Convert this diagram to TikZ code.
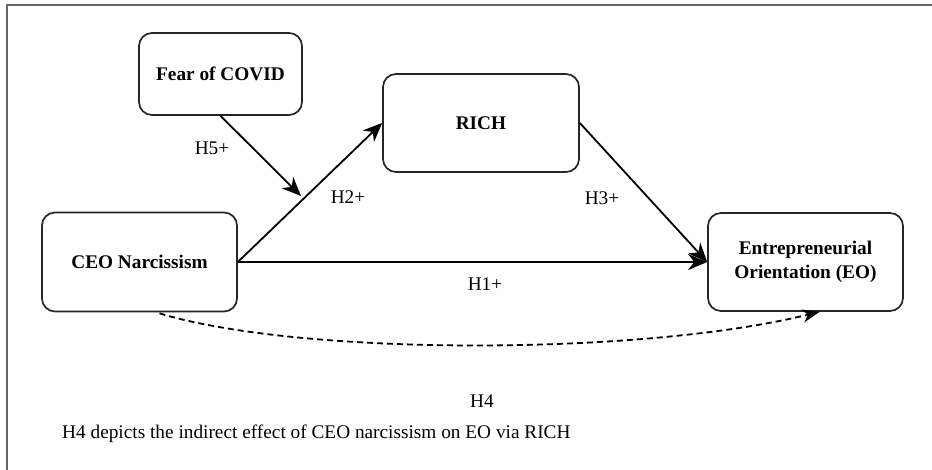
\documentclass[tikz,border=0pt]{standalone}
\usepackage{fontspec}
\setmainfont{Liberation Serif}
\usetikzlibrary{arrows.meta,calc}
\tikzset{
  box/.style={draw=black!85, line width=1.7pt, rounded corners=13pt, align=center,
    font=\fontsize{19.3}{24}\selectfont\bfseries, inner sep=0pt},
  lbl/.style={font=\fontsize{19.3}{24}\selectfont, inner sep=0pt},
  conn/.style={line width=1.8pt, -{Stealth[length=19pt,width=16pt,inset=6pt]}},
  dconn/.style={line width=1.8pt, dash pattern=on 6pt off 4pt, -{Stealth[length=17pt,width=13pt,inset=5pt]}},
  frame/.style={draw=black!60, line width=2pt}
}
\begin{document}
\begin{tikzpicture}[x=1pt,y=-1pt]
\useasboundingbox (0,0) rectangle (932,470);
\draw[frame] (7,470) -- (7,5) -- (932,5);
\node[box, minimum width=163pt, minimum height=82pt] (fear) at (220.5,74) {Fear of COVID};
\node[box, minimum width=196pt, minimum height=98pt] (rich) at (481,123) {RICH};
\node[box, minimum width=195pt, minimum height=99pt] (ceo) at (139.5,262) {CEO Narcissism};
\node[box, minimum width=195pt, minimum height=98pt] (eo) at (805.5,262) {Entrepreneurial\\Orientation (EO)};
\coordinate (h5end) at (301,196);
\draw[conn] (ceo.east) -- (rich.west);
\draw[conn] (fear.south) -- (h5end);
\draw[conn] (rich.east) -- (eo.west);
\draw[conn] (ceo.east) -- (eo.west);
\coordinate (ds) at ($(ceo.south)+(20,1)$);
\coordinate (de) at ($(eo.south)+(14,0)$);
\draw[dconn] (ds) .. controls (300,356) and (640,356) .. (de);
\node[lbl] (h5) at (212,148) {H5+};
\node[lbl] (h2) at (348,197) {H2+};
\node[lbl] (h3) at (602,198) {H3+};
\node[lbl] (h1) at (485,284) {H1+};
\node[lbl] (h4) at (482,401) {H4};
\node[lbl, anchor=west] (cap) at (62,434) {H4 depicts the indirect effect of CEO narcissism on EO via RICH};
\end{tikzpicture}
\end{document}
